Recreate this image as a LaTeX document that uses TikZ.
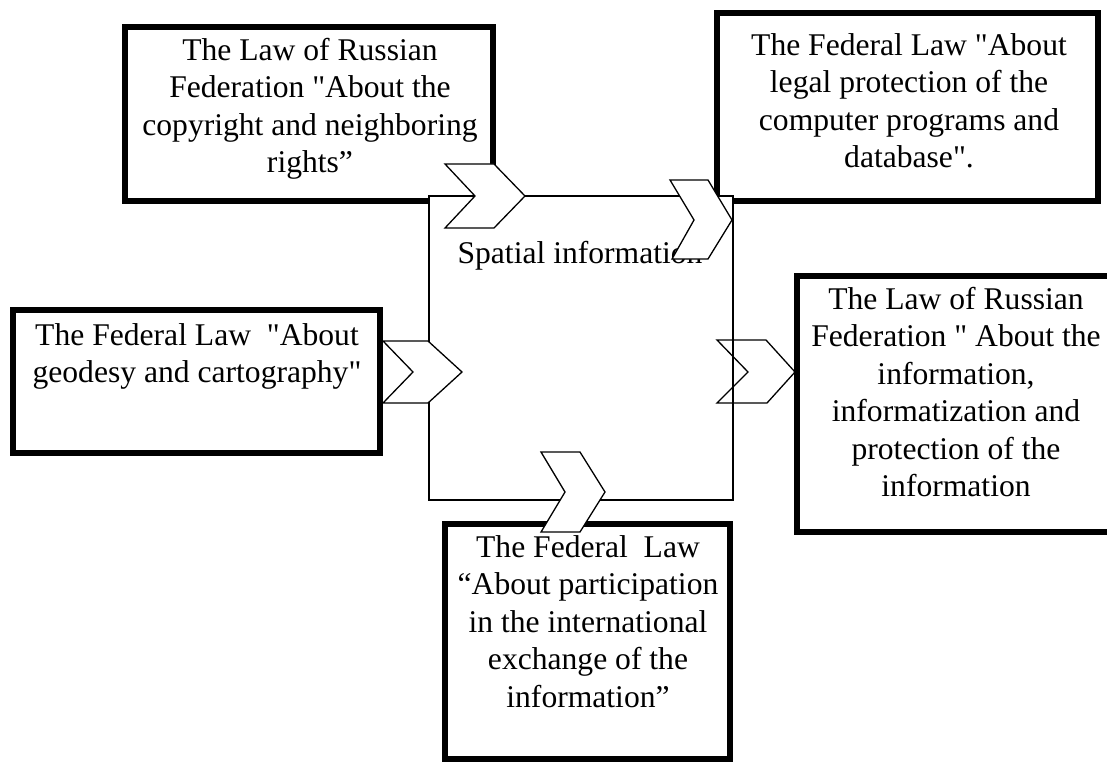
\documentclass[tikz,border=0pt]{standalone}
\usepackage{fontspec}
\setmainfont{Liberation Serif}[Ligatures=TeXOff]
\begin{document}
\begin{tikzpicture}[x=1pt,y=-1pt,
  lawbox/.style={draw=black,line width=6pt,fill=white,rectangle,inner sep=0pt,outer sep=0pt},
  lawtext/.style={align=center,inner sep=0pt,anchor=north,font=\fontsize{31.6}{37.5}\selectfont},
  centersq/.style={draw=black,line width=1.5pt,fill=white},
  chevfill/.style={draw=black,line width=1.3pt,fill=white,line join=miter},
  chevopen/.style={draw=black,line width=1.3pt,line join=miter}]
\useasboundingbox (0,0) rectangle (1107,762);
\newcommand{\fl}{\rule{0pt}{30pt}}
% boxes
\node[lawbox,minimum width=368pt,minimum height=174pt] (b1) at (309,114) {};
\node[lawbox,minimum width=381pt,minimum height=188pt] (b2) at (907.5,107) {};
\node[lawbox,minimum width=367pt,minimum height=143pt] (b3) at (196.5,381.5) {};
\node[lawbox,minimum width=318pt,minimum height=256pt] (b4) at (956,404) {};
\node[lawbox,minimum width=285pt,minimum height=235pt] (b5) at (587.5,641.5) {};
% texts
\node[lawtext] (t1) at (310,30) {\fl The Law of Russian\\Federation "About the\\copyright and neighboring\\rights”};
\node[lawtext] (t2) at (909,25) {\fl The Federal Law "About\\legal protection of the\\computer programs and\\database".};
\node[lawtext] (t3) at (197,315) {\fl The Federal Law~ "About\\geodesy and cartography"};
\node[lawtext] (t4) at (956,279) {\fl The Law of Russian\\Federation " About the\\information,\\informatization and\\protection of the\\information};
\node[lawtext] (t5) at (588,527) {\fl The Federal~ Law\\“About participation\\in the international\\exchange of the\\information”};
% central square
\node[centersq,minimum width=304pt,minimum height=304pt,inner sep=0pt] (sq) at (581,348) {};
\node[lawtext,anchor=base] (sp) at (580,263) {Spatial information};
% chevrons
\draw[chevfill] (445,164) -- (494,164) -- (525,196) -- (494,228) -- (445,228) -- (475,196) -- cycle;
\draw[chevfill] (670,180) -- (708,180) -- (732,220) -- (708,259) -- (672,259) -- (694,220) -- cycle;
\draw[chevfill] (383,341) -- (428,341) -- (462,372) -- (428,403) -- (383,403) -- (413,372) -- cycle;
\draw[chevopen] (717,340) -- (766,340) -- (795,372) -- (767,403) -- (717,403) -- (748,372) -- cycle;
\draw[chevfill] (541,452) -- (580,452) -- (605,492) -- (580,532) -- (541,532) -- (565,492) -- cycle;
\end{tikzpicture}
\end{document}
